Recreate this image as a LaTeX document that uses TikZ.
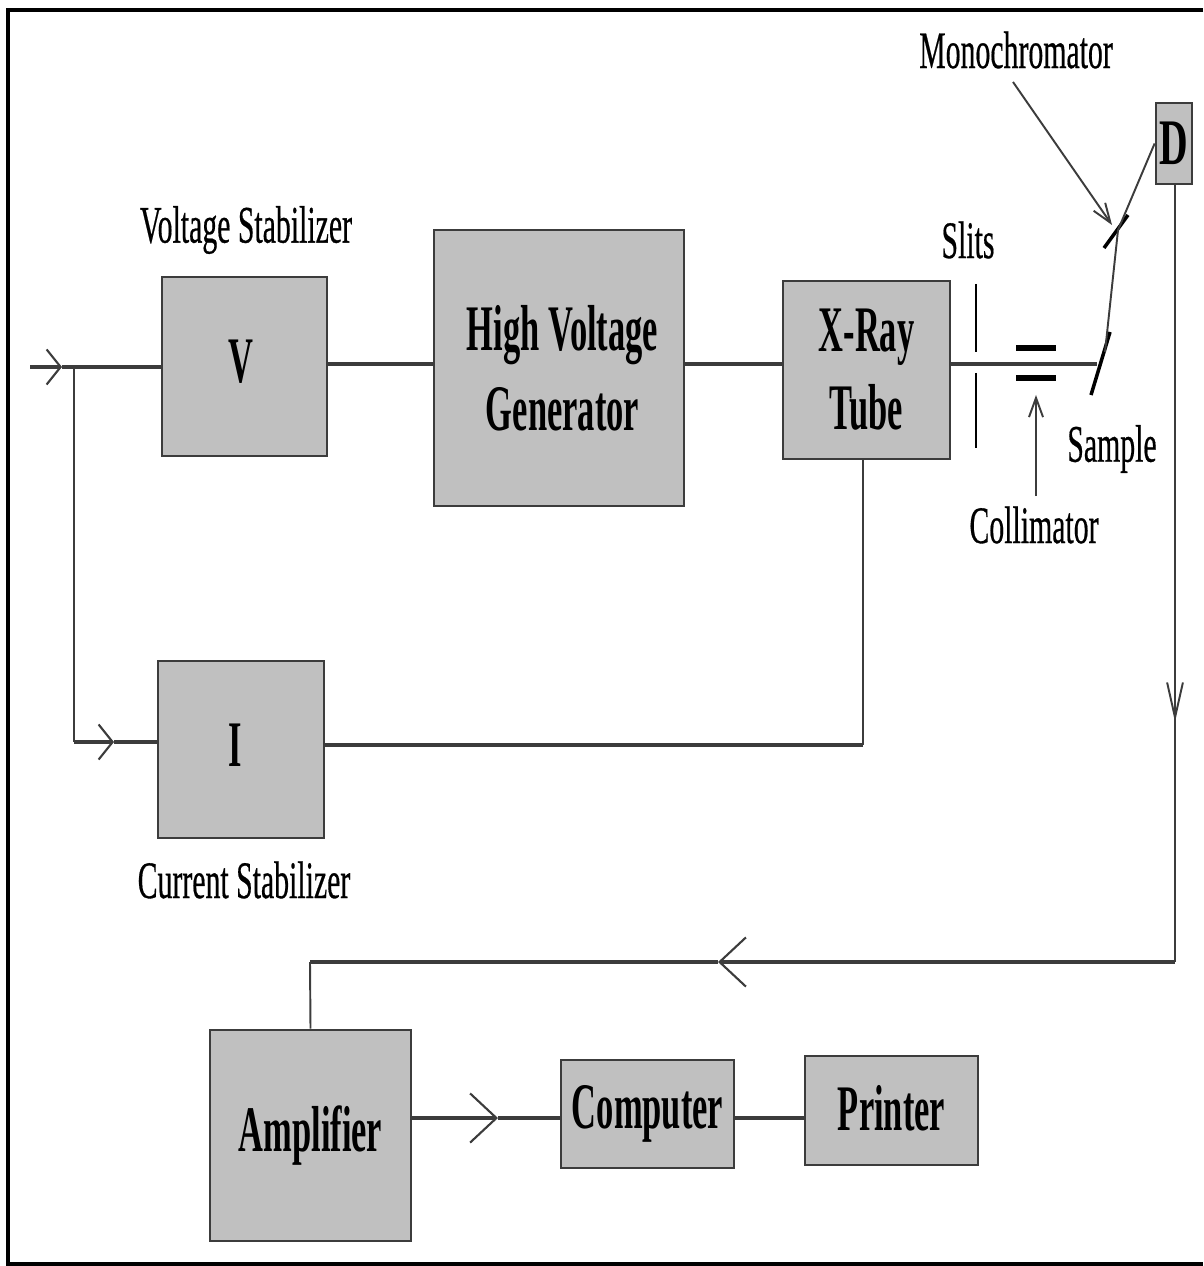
\documentclass[tikz,border=0pt]{standalone}
\usepackage{fontspec}
\setmainfont{Liberation Serif}
\newfontfamily\tagfont[FakeBold=0.6]{Liberation Serif}
\usetikzlibrary{arrows.meta, positioning}
\definecolor{boxgray}{HTML}{C0C0C0}
\definecolor{wiregray}{HTML}{3C3C3C}
\newcommand{\talltext}[1]{\scalebox{0.53}[1]{#1}}
\newcommand{\tagtext}[1]{\scalebox{0.565}[1]{#1}}
\tikzset{
  box/.style={draw=wiregray, fill=boxgray, line width=1.6pt, inner sep=0pt, font=\fontsize{37}{40}\selectfont\bfseries, align=center},
  tag/.style={inner sep=0pt, font=\fontsize{30}{32}\selectfont\tagfont},
  wire/.style={draw=wiregray, line width=2.4pt},
  thinwire/.style={draw=wiregray, line width=1.1pt},
  optic/.style={draw=black, line width=1.5pt},
  smallbarb/.tip={Straight Barb[length=8pt,width=20pt,line width=1.2pt]},
  bigbarb/.tip={Straight Barb[length=15pt,width=28pt,line width=1.2pt]},
  tallbarb/.tip={Straight Barb[length=20pt,width=9pt,line width=1.1pt]},
  tinybarb/.tip={Straight Barb[length=11pt,width=8pt,line width=1.1pt]},
}
\begin{document}
\begin{tikzpicture}[x=0.02cm, y=-0.02cm]
\useasboundingbox (0,0) rectangle (1203,1266);
% frame
\draw[black, line width=2pt] (1203,10) -- (8,10) -- (8,1264) -- (1203,1264);

% boxes
\node[box, minimum width=3.3cm, minimum height=3.58cm] (v) at (244.5,366.5) {\hspace*{-4.5pt}\raisebox{6.5pt}{\talltext{V}}};
\node[box, minimum width=5cm, minimum height=5.52cm] (hv) at (559,368) {\raisebox{2pt}{\hspace*{4pt}\talltext{High Voltage}}\\[3.5pt]\hspace*{4pt}\talltext{Generator}};
\node[box, minimum width=3.34cm, minimum height=3.56cm] (xray) at (866.5,370) {\talltext{X-Ray}\\[4.5pt]\talltext{Tube}};
\node[box, minimum width=3.32cm, minimum height=3.54cm] (cur) at (241,749.5) {\hspace*{-7pt}\raisebox{4.5pt}{\talltext{I}}};
\node[box, minimum width=4.02cm, minimum height=4.22cm] (amp) at (310.5,1135.5) {\raisebox{1pt}{\talltext{Amplifier}}};
\node[box, minimum width=3.46cm, minimum height=2.16cm] (comp) at (647.5,1114) {\raisebox{1pt}{\talltext{Computer}}};
\node[box, minimum width=3.46cm, minimum height=2.18cm] (print) at (891.5,1110.5) {\raisebox{3pt}{\talltext{Printer}}};
\node[box, minimum width=0.72cm, minimum height=1.62cm] (det) at (1174,143.5) {\scalebox{1.15}[1]{\talltext{D}}};

% labels
\node[tag] (vlabel) at (246,230) {\tagtext{Voltage Stabilizer}};
\node[tag] (clabel) at (244,880) {\tagtext{Current Stabilizer}};
\node[tag] (slabel) at (968,240) {\tagtext{Slits}};
\node[tag] (mlabel) at (1016,50) {\tagtext{Monochromator}};
\node[tag] (smlabel) at (1112,449) {\tagtext{Sample}};
\node[tag] (collabel) at (1034,525) {\tagtext{Collimator}};

% input and stabilizers
\coordinate (in) at (30,367);
\coordinate (intip) at (62,367);
\coordinate (split) at (74,367);
\coordinate (itip) at (114,742);
\draw[wire, -{smallbarb}] (in) -- (intip);
\draw[wire] (intip) -- (intip -| v.west);
\draw[thinwire] (split) -- (split |- itip);
\draw[wire, -{smallbarb}] (split |- itip) -- (itip);
\draw[wire] (itip) -- (itip -| cur.west);
\coordinate (mainline) at (600,364);
\draw[wire] (mainline -| v.east) -- (mainline -| hv.west);
\draw[wire] (mainline -| hv.east) -- (mainline -| xray.west);

% tube back to current stabilizer
\coordinate (tubedown) at (863,745);
\draw[thinwire] (tubedown |- xray.south) -- (tubedown);
\draw[wire] (tubedown) -- (tubedown -| cur.east);

% optics
\coordinate (beamend) at (1097,364);
\coordinate (sampletop) at (1110,332);
\coordinate (samplebot) at (1091,395);
\coordinate (monotop) at (1128,215);
\coordinate (monobot) at (1104,248);
\coordinate (monohit) at (1118,230);
\coordinate (samplehit) at (1105,352);
\draw[wire] (mainline -| xray.east) -- (beamend);
\draw[optic] (976,284) -- (976,352);
\draw[optic] (976,373) -- (976,448);
\draw[black, line width=3.6pt] (1016,348) -- (1056,348);
\draw[black, line width=3.6pt] (1016,378) -- (1056,378);
\draw[optic, line width=2pt] (samplebot) -- (sampletop);
\draw[optic, line width=2pt] (monobot) -- (monotop);
\draw[thinwire] (samplehit) -- (monohit);
\draw[thinwire] (monohit) -- (det.west);
\coordinate (monotip) at (1112,225);
\coordinate (coltip) at (1036,395);
\draw[thinwire, -{tinybarb}] (1013,82) -- (monotip);
\draw[thinwire, -{tinybarb}] (1036,496) -- (coltip);

% detector to amplifier
\coordinate (dettip) at (1175,722);
\coordinate (corner) at (1175,962);
\coordinate (toptip) at (718,962);
\draw[thinwire, -{tallbarb}] (dettip |- det.south) -- (dettip);
\draw[thinwire] (dettip |- det.south) -- (corner);
\draw[wire, -{bigbarb}] (corner) -- (toptip);
\draw[wire] (toptip) -- (310,962);
\draw[thinwire] (310,962) -- (amp.north);

% amplifier chain
\coordinate (amptip) at (498,1118);
\draw[wire, -{bigbarb}] (amptip -| amp.east) -- (amptip);
\draw[wire] (amptip) -- (amptip -| comp.west);
\draw[wire] (amptip -| comp.east) -- (amptip -| print.west);
\end{tikzpicture}
\end{document}
